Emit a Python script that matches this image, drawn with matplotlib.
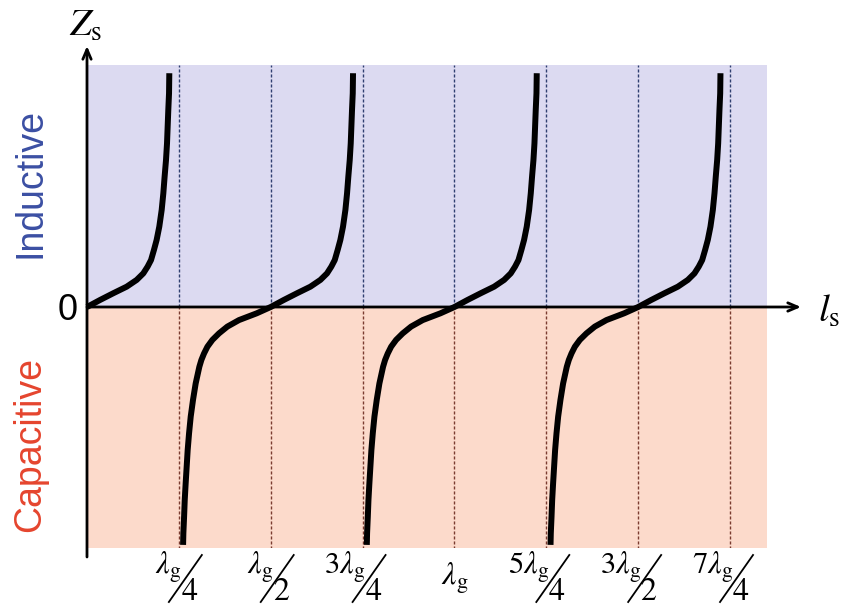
# Input impedance of a shorted stub vs. length, sketched as in the reference figure.

import numpy as np
import matplotlib.pyplot as plt

plt.rcParams['mathtext.fontset'] = 'stix'

# x in units of lambda_g/4, Z in arbitrary units (shaded band is -10..10)
# one tan-like branch, relative to its zero crossing
low_dx = [-0.954, -0.951, -0.943, -0.936, -0.926, -0.915, -0.904, -0.889, -0.871, -0.846,
          -0.817, -0.777, -0.755, -0.726, -0.689, -0.635, -0.563, -0.472, -0.345, -0.152]
low_z = [-9.83, -9.35, -8.66, -7.97, -7.29, -6.6, -5.91, -5.22, -4.53, -3.84,
         -3.16, -2.47, -2.19, -1.92, -1.64, -1.36, -1.09, -0.81, -0.54, -0.26]
up_dx = [0.0, 0.142, 0.287, 0.432, 0.541, 0.613, 0.660, 0.697, 0.729, 0.758,
         0.787, 0.813, 0.831, 0.845, 0.860, 0.871, 0.878, 0.885, 0.893, 0.896]
up_z = [0.0, 0.29, 0.57, 0.84, 1.12, 1.39, 1.67, 1.94, 2.36, 2.77,
        3.32, 4.01, 4.70, 5.39, 6.07, 6.76, 7.45, 8.14, 8.83, 9.66]
crossings = [0, 2, 4, 6]

tick_pos = [1, 2, 3, 4, 5, 6, 7]
tick_num = [r'$\lambda_\mathrm{g}$', r'$\lambda_\mathrm{g}$', r'$3\lambda_\mathrm{g}$',
            r'$\lambda_\mathrm{g}$', r'$5\lambda_\mathrm{g}$', r'$3\lambda_\mathrm{g}$',
            r'$7\lambda_\mathrm{g}$']
tick_den = ['4', '2', '4', '', '4', '2', '4']

W, H = 841, 607
PX = 91.86   # pixels per lambda_g/4
PY = 24.2    # pixels per Z unit
X0, Y0 = 87, 307

fig = plt.figure(figsize=(W / 100, H / 100), dpi=100)
ax = fig.add_axes([X0 / W, 1 - 548 / H, (767 - X0) / W, (548 - 65) / H])
ax.set_xlim(0, (767 - X0) / PX)
ax.set_ylim(-(548 - Y0) / PY, (Y0 - 65) / PY)
ax.axis('off')


def dy(py):
    return (Y0 - py) / PY


def dx(px):
    return (px - X0) / PX


ax.axhspan(0, 20, color='#dcdaf1', zorder=0)
ax.axhspan(-20, 0, color='#fcdacb', zorder=0)

# quarter-wavelength guide lines
for p in tick_pos:
    ax.plot([p, p], [0, 10], ls=(0, (2.2, 1.4)), lw=1.0, color='#2f3f70', zorder=1)
    ax.plot([p, p], [-10, 0], ls=(0, (2.2, 1.4)), lw=1.0, color='#7a3b30', zorder=1)

# axes with arrows
ax.annotate('', xy=(dx(801), 0), xytext=(0, 0),
            arrowprops=dict(arrowstyle='->,head_length=0.7,head_width=0.3', lw=2, color='black',
                            shrinkA=0, shrinkB=0), annotation_clip=False, zorder=3)
ax.annotate('', xy=(0, dy(46)), xytext=(0, dy(557)),
            arrowprops=dict(arrowstyle='->,head_length=0.7,head_width=0.3', lw=2, color='black',
                            shrinkA=0, shrinkB=0), annotation_clip=False, zorder=3)

# impedance branches
for c in crossings:
    if c == 0:
        bx, bz = up_dx, up_z
    else:
        bx, bz = low_dx + up_dx, low_z + up_z
    ax.plot(c + np.array(bx), bz, color='black', lw=4.3, solid_capstyle='butt',
            solid_joinstyle='round', zorder=4, clip_on=False)

# tick labels as slanted fractions
for p, num, den in zip(tick_pos, tick_num, tick_den):
    if den == '':
        ax.text(p, dy(578), num, fontsize=23, ha='center', va='center')
        continue
    ax.text(p + 3 / PX, dy(574), num, fontsize=22, ha='right', va='baseline')
    ax.plot([p - 10 / PX, p + 23 / PX], [dy(602), dy(555)], color='black', lw=1.3,
            clip_on=False)
    ax.text(p + 2 / PX, dy(600), '$' + den + '$', fontsize=23, ha='left', va='baseline')

ax.text(dx(69), dy(36), r'$Z_\mathrm{s}$', fontsize=28, ha='left', va='baseline')
ax.text(dx(818), dy(322), r'$l_\mathrm{s}$', fontsize=28, ha='left', va='baseline')
ax.text(dx(68), dy(311), '0', fontsize=26, family='Liberation Sans', ha='center', va='center')

ax.text(dx(30), dy(183), 'Inductive', fontsize=27, family='Liberation Sans', color='#3b4fa3',
        rotation=90, ha='center', va='center')
ax.text(dx(30), dy(445), 'Capacitive', fontsize=27, family='Liberation Sans', color='#e5452e',
        rotation=90, ha='center', va='center')

fig.savefig('out.png', dpi=100)
